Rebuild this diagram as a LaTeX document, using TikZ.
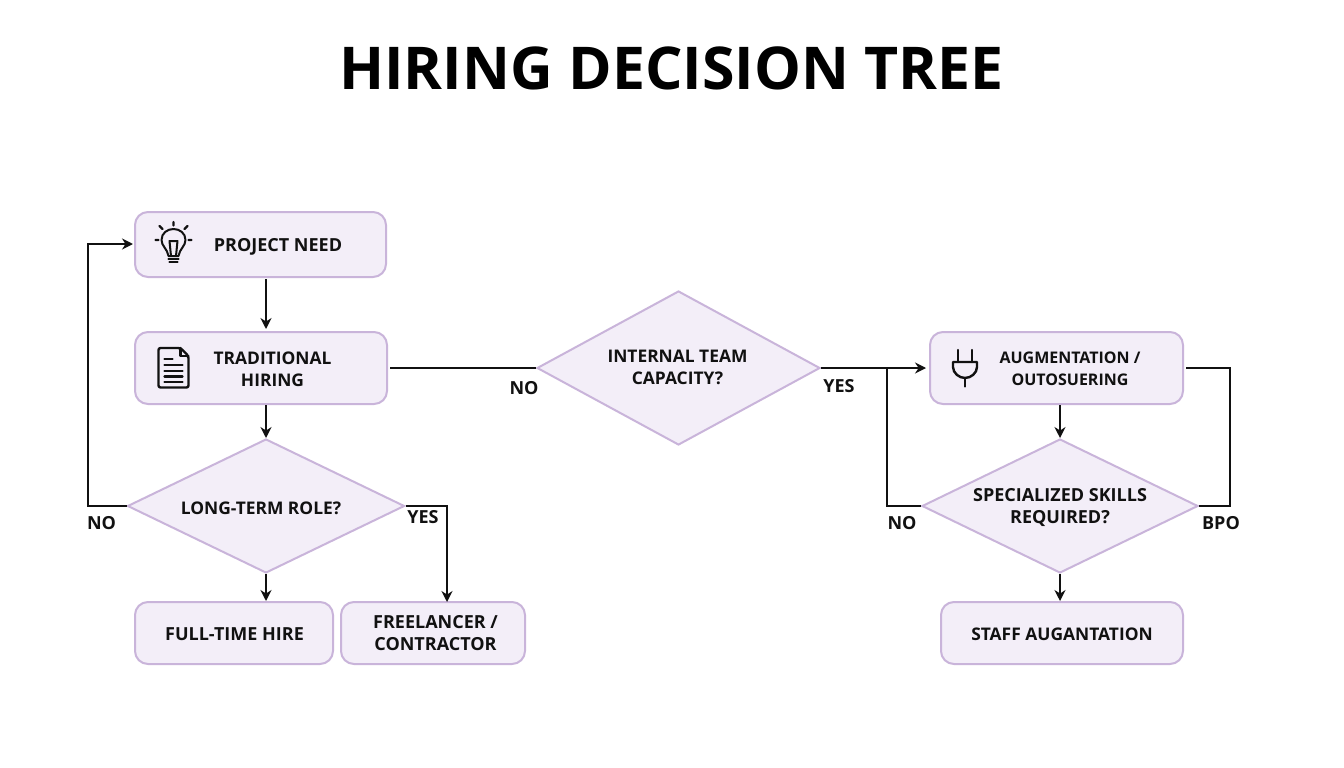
\documentclass[tikz,border=0pt]{standalone}
\usepackage{fontspec}
\setmainfont{Open Sans}
\usetikzlibrary{shapes.geometric,arrows.meta}
\definecolor{boxfill}{HTML}{F3EEF8}
\definecolor{boxline}{HTML}{C9B4DA}
\definecolor{ink}{HTML}{111111}
\tikzset{
  box/.style={draw=boxline,fill=boxfill,line width=2pt,rounded corners=13pt,inner sep=0pt},
  deci/.style={draw=boxline,fill=boxfill,line width=2pt,diamond,inner sep=0pt,aspect=2},
  txt/.style={font=\fontsize{18}{22}\bfseries\selectfont,text=ink,align=center,inner sep=0pt},
  txtm/.style={font=\fontsize{17.4}{22}\bfseries\selectfont,text=ink,align=center,inner sep=0pt},
  txts/.style={font=\fontsize{16}{22}\bfseries\selectfont,text=ink,align=center,inner sep=0pt},
  lab/.style={font=\fontsize{18}{20}\bfseries\selectfont,text=ink,inner sep=0pt},
  arr/.style={draw=ink,line width=2.2pt,-{Stealth[length=11pt,width=11pt]}},
  lin/.style={draw=ink,line width=2.2pt},
  ico/.style={draw=ink,line width=2.4pt,line cap=round,line join=round}
}
\begin{document}
\begin{tikzpicture}[x=1pt,y=-1pt]
\useasboundingbox (0,0) rectangle (1344,768);
\fill[white] (0,0) rectangle (1344,768);
\node[font=\fontsize{59}{60}\bfseries\selectfont,text=black,inner sep=0pt] (title) at (671.5,68) {HIRING DECISION TREE};
% boxes
\node[box,minimum width=251pt,minimum height=65pt] (pn) at (260.5,244.5) {};
\node[box,minimum width=252pt,minimum height=72pt] (th) at (261,368) {};
\node[box,minimum width=198pt,minimum height=62pt] (ft) at (234,633) {};
\node[box,minimum width=184pt,minimum height=62pt] (fl) at (433,633) {};
\node[box,minimum width=253pt,minimum height=72pt] (au) at (1056.5,368) {};
\node[box,minimum width=242pt,minimum height=62pt] (sa) at (1062,633) {};
% diamonds
\node[deci,minimum width=277pt,minimum height=134pt] (lt) at (266,506) {};
\node[deci,minimum width=283pt,minimum height=154pt] (it) at (678.5,368) {};
\node[deci,minimum width=276pt,minimum height=134pt] (ss) at (1060,506) {};
% texts
\node[txt,anchor=base] (pnt) at (278,251) {PROJECT NEED};
\node[txtm] (tht) at (272.5,369) {TRADITIONAL\\HIRING};
\node[txt,anchor=base] (ftt) at (234.5,640) {FULL-TIME HIRE};
\node[txt] (flt) at (435.5,633) {FREELANCER /\\CONTRACTOR};
\node[txts] (aut) at (1070,369) {AUGMENTATION /\\OUTOSUERING};
\node[txtm,anchor=base] (sat) at (1062,640) {STAFF AUGANTATION};
\node[txtm,anchor=base] (ltt) at (261,514) {LONG-TERM ROLE?};
\node[txtm] (itt) at (677.5,367) {INTERNAL TEAM\\CAPACITY?};
\node[txt] (sst) at (1060,508) {SPECIALIZED SKILLS\\REQUIRED?};
% corner coordinates
\coordinate (c1) at (88,506);
\coordinate (c2) at (88,244);
\coordinate (c3) at (447,506);
\coordinate (c4) at (447,602);
\coordinate (c5) at (887,506);
\coordinate (c6) at (887,368);
\coordinate (c7) at (1230,368);
\coordinate (c8) at (1230,506);
\coordinate (p1) at (266,279);
\coordinate (p2) at (266,329);
\coordinate (p3) at (266,405);
\coordinate (p4) at (266,601);
\coordinate (p5) at (1060,405);
\coordinate (p6) at (1060,574);
\coordinate (p7) at (1060,601);
\coordinate (p8) at (133,244);
% connectors
\draw[arr] (p1) -- (p2);
\draw[arr] (p3) -- (lt.north);
\draw[arr] (lt.south) -- (p4);
\draw[lin] (th.east) ++(2,0) -- (it.west);
\draw[arr] (it.east) -- ([xshift=-3pt]au.west);
\draw[lin] (ss.west) -- (c5) -- (c6);
\draw[lin] (au.east) ++(2,0) -- (c7) -- (c8) -- (ss.east);
\draw[arr] (p5) -- (ss.north);
\draw[arr] (p6) -- (p7);
\draw[arr] (lt.west) -- (c1) -- (c2) -- (p8);
\draw[arr] (lt.east) -- (c3) -- (c4);
% labels
\node[lab] (l1) at (101.5,523) {NO};
\node[lab] (l2) at (423,517) {YES};
\node[lab] (l3) at (524,388) {NO};
\node[lab] (l4) at (839,386) {YES};
\node[lab] (l5) at (902,523) {NO};
\node[lab] (l6) at (1221,523) {BPO};
% bulb icon
\begin{scope}[shift={(173.5,243)}]
\draw[ico,line width=2pt] (-5,13) .. controls (-6,6) and (-12,3) .. (-12,-3) .. controls (-12,-10) and (-6,-14) .. (0,-14) .. controls (6,-14) and (12,-10) .. (12,-3) .. controls (12,3) and (6,6) .. (5,13) -- cycle;
\draw[ico,line width=2pt] (-2.5,13) -- (-4,-2) -- (4,-2) -- (2.5,13);
\draw[ico] (-5,16) -- (5,16) (-4,19) -- (4,19);
\draw[ico] (0,-17.5) -- (0,-21) (-11,-14) -- (-14,-17) (11,-14) -- (14,-17) (-15,-3) -- (-18,-3) (15,-3) -- (18,-3);
\end{scope}
% document icon
\begin{scope}[shift={(173.5,368)}]
\draw[ico,rounded corners=2pt] (-15,-20) -- (7,-20) -- (15,-12) -- (15,19.5) -- (-15,19.5) -- cycle;
\draw[ico] (7,-20) -- (7,-12) -- (15,-12);
\draw[ico] (-9,-9) -- (-1,-9) (-9,-3) -- (9,-3) (-9,3) -- (9,3) (-9,8.5) -- (9,8.5) (-9,14) -- (9,14);
\end{scope}
% plug icon
\begin{scope}[shift={(965,368)}]
\draw[ico] (-7,-18) -- (-7,-6) (7,-18) -- (7,-6);
\draw[ico] (-12,-6) -- (12,-6) -- (12,-1) .. controls (12,5) and (6,10) .. (0,10) .. controls (-6,10) and (-12,5) .. (-12,-1) -- cycle;
\draw[ico] (0,10) -- (0,18.5);
\end{scope}
\end{tikzpicture}
\end{document}
